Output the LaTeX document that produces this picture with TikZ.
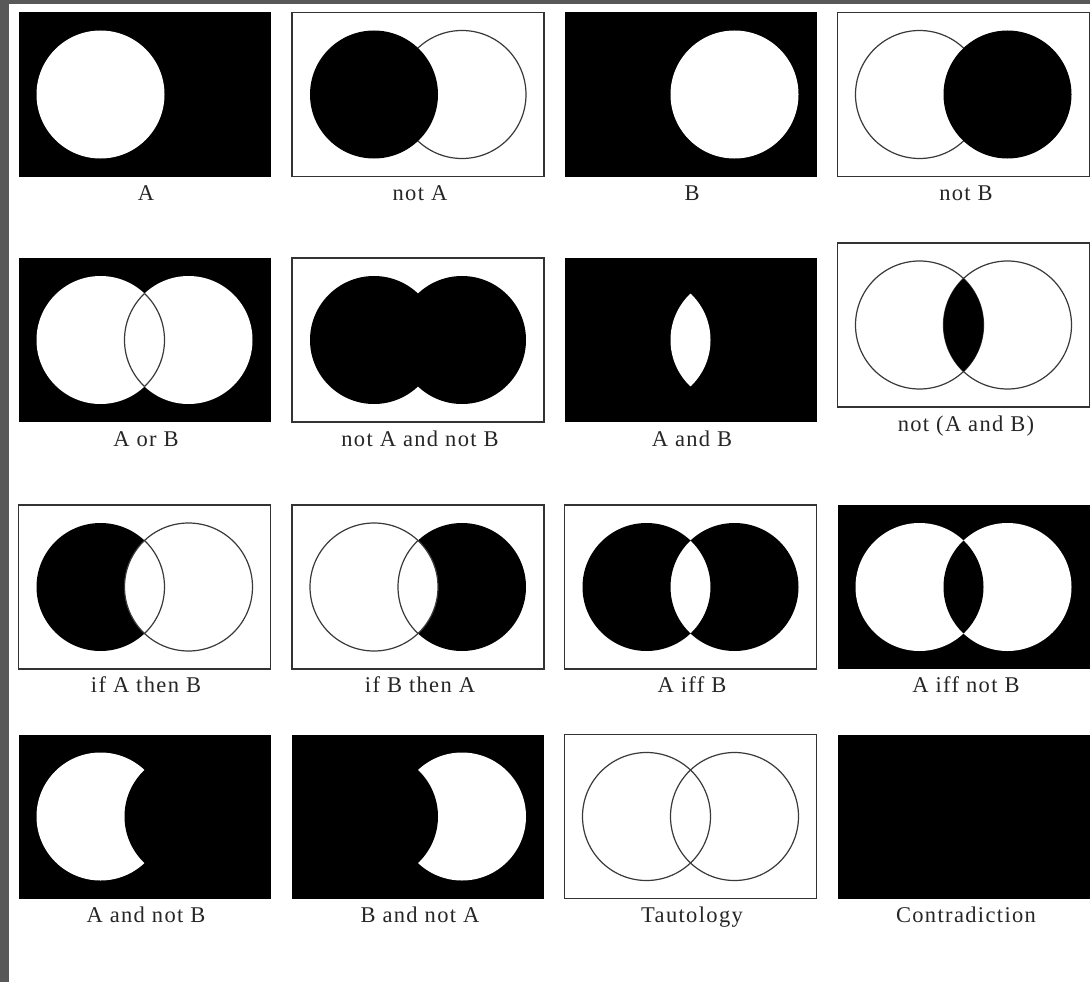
\documentclass[tikz,border=0pt]{standalone}
\usepackage{fontspec}
\newfontfamily\labfont[LetterSpace=6]{Liberation Serif}
\definecolor{frame}{HTML}{585858}
\definecolor{boxgray}{HTML}{333333}
\definecolor{linegray}{HTML}{3A3A3A}
\def\crad{64pt}
\newcommand\mkpanel[3]{%
  \coordinate (#1) at (#2,#3);
  \coordinate (#1a) at (#2-44,#3);
  \coordinate (#1b) at (#2+44,#3);
  \coordinate (#1nw) at (#2-126,#3-82);
  \coordinate (#1se) at (#2+126,#3+82);
}
\begin{document}
\begin{tikzpicture}[x=1pt,y=-1pt,
  blackbox/.style={fill=black},
  whitebox/.style={draw=boxgray,line width=1.4pt,fill=white},
  outline/.style={draw=linegray,line width=1.2pt},
  lab/.style={font=\labfont\fontsize{22.5}{25}\selectfont,anchor=base,inner sep=0pt,text=black!85}]
\useasboundingbox (0,0) rectangle (1090,982);
\fill[white] (0,0) rectangle (1090,982);
\fill[frame] (0,0) rectangle (1090,4.5);
\fill[frame] (0,0) rectangle (9,982);

% panel coordinates
\mkpanel{p1}{144.5}{94.5}
\mkpanel{p2}{418}{94.5}
\mkpanel{p3}{690.5}{94.5}
\mkpanel{p4}{963.5}{94.5}
\mkpanel{p5}{144.5}{340}
\mkpanel{p6}{418}{340}
\mkpanel{p7}{690.5}{340}
\mkpanel{p8}{963.5}{325}
\mkpanel{p9}{144.5}{587}
\mkpanel{p10}{418}{587}
\mkpanel{p11}{690.5}{587}
\mkpanel{p12}{963.5}{587}
\mkpanel{p13}{144.5}{816.5}
\mkpanel{p14}{418}{816.5}
\mkpanel{p15}{690.5}{816.5}
\mkpanel{p16}{963.5}{816.5}

% 1: A
\fill[blackbox] (p1nw) rectangle (p1se);
\fill[white] (p1a) circle[radius=\crad];
% 2: not A
\draw[whitebox] (p2nw) rectangle (p2se);
\draw[outline] (p2b) circle[radius=\crad];
\fill[black] (p2a) circle[radius=\crad];
% 3: B
\fill[blackbox] (p3nw) rectangle (p3se);
\fill[white] (p3b) circle[radius=\crad];
% 4: not B
\draw[whitebox] (p4nw) rectangle (p4se);
\draw[outline] (p4a) circle[radius=\crad];
\fill[black] (p4b) circle[radius=\crad];

% 5: A or B
\fill[blackbox] (p5nw) rectangle (p5se);
\fill[white] (p5a) circle[radius=\crad];
\fill[white] (p5b) circle[radius=\crad];
\begin{scope}\clip (p5a) circle[radius=\crad]; \draw[outline] (p5b) circle[radius=\crad];\end{scope}
\begin{scope}\clip (p5b) circle[radius=\crad]; \draw[outline] (p5a) circle[radius=\crad];\end{scope}
% 6: not A and not B
\draw[whitebox] (p6nw) rectangle (p6se);
\fill[black] (p6a) circle[radius=\crad];
\fill[black] (p6b) circle[radius=\crad];
% 7: A and B
\fill[blackbox] (p7nw) rectangle (p7se);
\begin{scope}\clip (p7a) circle[radius=\crad]; \fill[white] (p7b) circle[radius=\crad];\end{scope}
% 8: not (A and B)
\draw[whitebox] (p8nw) rectangle (p8se);
\draw[outline] (p8a) circle[radius=\crad];
\draw[outline] (p8b) circle[radius=\crad];
\begin{scope}\clip (p8a) circle[radius=\crad]; \fill[black] (p8b) circle[radius=\crad];\end{scope}

% 9: if A then B
\draw[whitebox] (p9nw) rectangle (p9se);
\fill[black] (p9a) circle[radius=\crad];
\fill[white] (p9b) circle[radius=\crad];
\draw[outline] (p9b) circle[radius=\crad];
\begin{scope}\clip (p9b) circle[radius=\crad]; \draw[outline] (p9a) circle[radius=\crad];\end{scope}
% 10: if B then A
\draw[whitebox] (p10nw) rectangle (p10se);
\fill[black] (p10b) circle[radius=\crad];
\fill[white] (p10a) circle[radius=\crad];
\draw[outline] (p10a) circle[radius=\crad];
\begin{scope}\clip (p10a) circle[radius=\crad]; \draw[outline] (p10b) circle[radius=\crad];\end{scope}
% 11: A iff B
\draw[whitebox] (p11nw) rectangle (p11se);
\fill[black,even odd rule] (p11a) circle[radius=\crad] (p11b) circle[radius=\crad];
% 12: A iff not B
\fill[blackbox] (p12nw) rectangle (p12se);
\fill[white] (p12a) circle[radius=\crad];
\fill[white] (p12b) circle[radius=\crad];
\begin{scope}\clip (p12a) circle[radius=\crad]; \fill[black] (p12b) circle[radius=\crad];\end{scope}

% 13: A and not B
\fill[blackbox] (p13nw) rectangle (p13se);
\fill[white] (p13a) circle[radius=\crad];
\fill[black] (p13b) circle[radius=\crad];
% 14: B and not A
\fill[blackbox] (p14nw) rectangle (p14se);
\fill[white] (p14b) circle[radius=\crad];
\fill[black] (p14a) circle[radius=\crad];
% 15: Tautology
\draw[whitebox] (p15nw) rectangle (p15se);
\draw[outline] (p15a) circle[radius=\crad];
\draw[outline] (p15b) circle[radius=\crad];
% 16: Contradiction
\fill[blackbox] (p16nw) rectangle (p16se);

% labels
\node[lab] (l1) at (146,200) {A};
\node[lab] (l2) at (420,200) {not A};
\node[lab] (l3) at (692,200) {B};
\node[lab] (l4) at (966,200) {not B};
\node[lab] (l5) at (146,446) {A or B};
\node[lab] (l6) at (420,446) {not A and not B};
\node[lab] (l7) at (692,446) {A and B};
\node[lab] (l8) at (966,431) {not (A and B)};
\node[lab] (l9) at (146,692) {if A then B};
\node[lab] (l10) at (420,692) {if B then A};
\node[lab] (l11) at (692,692) {A iff B};
\node[lab] (l12) at (966,692) {A iff not B};
\node[lab] (l13) at (146,922) {A and not B};
\node[lab] (l14) at (420,922) {B and not A};
\node[lab] (l15) at (692,922) {Tautology};
\node[lab] (l16) at (966,922) {Contradiction};
\end{tikzpicture}
\end{document}
